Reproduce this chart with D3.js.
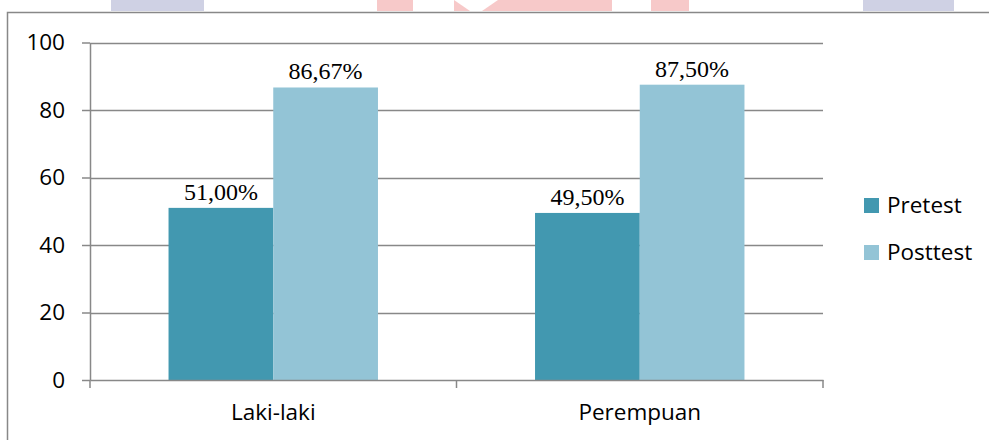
<!DOCTYPE html>
<html>
<head>
<meta charset="utf-8">
<script src="https://cdn.jsdelivr.net/npm/d3@7"></script>
<style>
  html, body { margin: 0; padding: 0; background: #fff; }
  svg { display: block; }
</style>
</head>
<body>
<div id="chart"></div>
<script>
// values
const categories = ["Laki-laki", "Perempuan"];
const seriesNames = ["Pretest", "Posttest"];
const pretest = [51.00, 49.50];
const posttest = [86.67, 87.50];
const yTicks = [0, 20, 40, 60, 80, 100];

const W = 989, H = 440;
const colors = { Pretest: "#4298b0", Posttest: "#93c4d6" };
const gridColor = "#888";
const sansFont = "'Open Sans', 'Noto Sans', sans-serif";
const serifFont = "'Liberation Serif', 'DejaVu Serif', serif";
const sansSize = 22.5;

const svg = d3.select("#chart").append("svg")
  .attr("width", W)
  .attr("height", H);

// faint header strips bleeding in from the page above the chart frame
const strips = [
  { x0: 111, x1: 204, c: "#cfd1e4" },
  { x0: 377, x1: 413, c: "#f7c9c9" },
  { x0: 454, x1: 612, c: "#f7c9c9" },
  { x0: 651, x1: 689, c: "#f7c9c9" },
  { x0: 863, x1: 954, c: "#cfd1e4" },
];
svg.selectAll("rect.strip").data(strips).join("rect")
  .attr("class", "strip")
  .attr("x", d => d.x0).attr("y", 0)
  .attr("width", d => d.x1 - d.x0).attr("height", 11)
  .attr("fill", d => d.c);
// notch cut in the wide red strip
svg.append("path")
  .attr("d", "M454,0 L470,11 L482,11 L498,0 Z")
  .attr("fill", "#fff");

// chart frame (runs off the right and bottom edges)
svg.append("rect")
  .attr("x", 7.5).attr("y", 12.5)
  .attr("width", 1000).attr("height", 500)
  .attr("fill", "#fff")
  .attr("stroke", gridColor)
  .attr("stroke-width", 1.5);

const plot = { left: 90, right: 823, top: 42.5, bottom: 380 };

const x = d3.scaleBand().domain(categories).range([plot.left, plot.right]);
const inner = d3.scaleBand().domain(seriesNames)
  .range([0, x.bandwidth()])
  .paddingInner(0)
  .paddingOuter(0.75);
const y = d3.scaleLinear().domain([0, 100]).range([plot.bottom, plot.top]);

// horizontal gridlines
svg.append("g").selectAll("line").data(yTicks.filter(v => v > 0)).join("line")
  .attr("x1", plot.left).attr("x2", plot.right)
  .attr("y1", d => Math.round(y(d)) + 0.5).attr("y2", d => Math.round(y(d)) + 0.5)
  .attr("stroke", gridColor).attr("stroke-width", 1.5);

// bars
const rows = categories.map((c, i) => ({ cat: c, Pretest: pretest[i], Posttest: posttest[i] }));
const groups = svg.append("g").selectAll("g").data(rows).join("g")
  .attr("transform", d => `translate(${x(d.cat)},0)`);

groups.selectAll("rect")
  .data(d => seriesNames.map(s => ({ s, v: d[s] })))
  .join("rect")
  .attr("x", d => inner(d.s))
  .attr("y", d => y(d.v))
  .attr("width", inner.bandwidth())
  .attr("height", d => y(0) - y(d.v))
  .attr("fill", d => colors[d.s]);

const fmt = v => v.toFixed(2).replace(".", ",") + "%";
groups.selectAll("text")
  .data(d => seriesNames.map(s => ({ s, v: d[s] })))
  .join("text")
  .attr("x", d => inner(d.s) + inner.bandwidth() / 2)
  .attr("y", d => y(d.v) - 8)
  .attr("text-anchor", "middle")
  .attr("font-family", serifFont)
  .attr("font-size", 24)
  .attr("fill", "#000")
  .text(d => fmt(d.v));

// y axis
const yAxis = svg.append("g")
  .attr("transform", `translate(${plot.left},0)`)
  .call(d3.axisLeft(y).tickValues(yTicks).tickSize(8).tickPadding(17).tickSizeOuter(0));
yAxis.select(".domain").attr("stroke", gridColor).attr("stroke-width", 1.5);
yAxis.selectAll(".tick line").attr("stroke", gridColor).attr("stroke-width", 1.5);
yAxis.selectAll(".tick text")
  .attr("font-family", sansFont).attr("font-size", sansSize).attr("fill", "#000");

// x axis: baseline with ticks at category boundaries
const xAxis = svg.append("g")
  .attr("transform", `translate(0,${plot.bottom})`)
  .call(d3.axisBottom(x).tickSize(0).tickPadding(24));
xAxis.select(".domain").attr("stroke", gridColor).attr("stroke-width", 1.5);
xAxis.selectAll(".tick text")
  .attr("font-family", sansFont).attr("font-size", sansSize).attr("fill", "#000");
const bounds = categories.map(c => x(c)).concat([x(categories[categories.length - 1]) + x.bandwidth()]);
xAxis.selectAll("line.bound").data(bounds).join("line")
  .attr("class", "bound")
  .attr("x1", d => d).attr("x2", d => d)
  .attr("y1", 0).attr("y2", 8)
  .attr("stroke", gridColor).attr("stroke-width", 1.5);

// legend
const legend = svg.append("g").attr("transform", "translate(864,198)");
const item = legend.selectAll("g").data(seriesNames).join("g")
  .attr("transform", (d, i) => `translate(0,${i * 47})`);
item.append("rect")
  .attr("width", 15).attr("height", 15)
  .attr("fill", d => colors[d]);
item.append("text")
  .attr("x", 23).attr("y", 15)
  .attr("font-family", sansFont).attr("font-size", sansSize)
  .attr("fill", "#000")
  .text(d => d);
</script>
</body>
</html>
